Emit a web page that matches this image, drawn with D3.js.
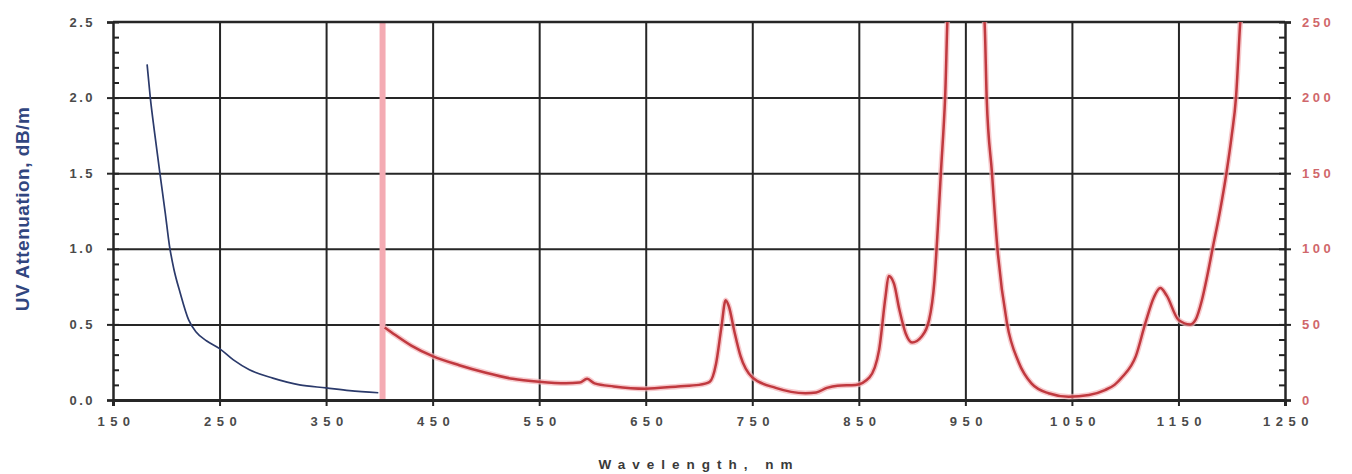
<!DOCTYPE html>
<html>
<head>
<meta charset="utf-8">
<script src="https://cdn.jsdelivr.net/npm/d3@7"></script>
<style>
  body { margin: 0; background: #fff; }
  .tick text { font-family: "Liberation Sans", Arial, sans-serif; font-weight: bold; }
</style>
</head>
<body>
<div id="chart"></div>
<script>
// UV part (left axis, dB/m)
const uvWavelength = [182, 185, 189, 194, 199, 203, 207, 213, 221, 228, 238, 250, 263, 278, 300, 325, 350, 372, 399];
const uvAtten = [2.22, 2.0, 1.77, 1.5, 1.24, 1.02, 0.87, 0.71, 0.53, 0.45, 0.39, 0.34, 0.265, 0.2, 0.145, 0.10, 0.08, 0.062, 0.048];

// VIS/NIR part (right axis)
const visWavelength = [405, 415, 430, 450, 475, 500, 525, 550, 575, 588, 595, 602, 620, 650, 680, 700, 710, 716, 721, 725, 728, 733, 739, 750, 772, 800, 810, 820, 830, 847, 860, 869, 875, 878, 883, 888, 894, 900, 909, 916, 921, 924, 927, 931, 934, 966, 968, 970, 975, 980, 989, 1000, 1012, 1028, 1047, 1066, 1081, 1090, 1097, 1110, 1119, 1127, 1133, 1139, 1150, 1161, 1166, 1172, 1177, 1182, 1189, 1195, 1200, 1204, 1208, 1210];
const visAtten = [48, 43, 36, 29, 23, 18, 14, 12, 11, 11.5, 14, 11, 9, 7.5, 9, 10, 12, 24, 48, 66, 62, 46, 29, 15, 8, 4.5, 5, 8, 9.5, 10, 15, 33, 68, 82, 77, 60, 44, 38, 42, 53, 79, 112, 150, 200, 260, 260, 250, 200, 150, 101, 51, 25, 11, 4.5, 2.2, 3.3, 6.6, 10, 15, 29, 51, 68, 74, 69, 53, 50, 53, 66, 82, 100, 125, 150, 175, 200, 250, 270];

const xTicks = [150, 250, 350, 450, 550, 650, 750, 850, 950, 1050, 1150, 1250];
const leftTicks = [0, 0.5, 1.0, 1.5, 2.0, 2.5];
const rightTicks = [0, 50, 100, 150, 200, 250];
const splitAt = [403];

const W = 1352, H = 474;
const margin = { top: 22, right: 67, bottom: 74, left: 113 };
const width = W - margin.left - margin.right;
const height = H - margin.top - margin.bottom;

const svg = d3.select('#chart').append('svg')
  .attr('width', W).attr('height', H);
const g = svg.append('g').attr('transform', `translate(${margin.left}, ${margin.top})`);

const x = d3.scaleLinear().domain([150, 1250]).range([0, width]);
const yL = d3.scaleLinear().domain([0, 2.5]).range([height, 0]);
const yR = d3.scaleLinear().domain([0, 250]).range([height, 0]);

const gridColor = '#262626';

// grid
g.append('g')
  .call(d3.axisBottom(x).tickValues(xTicks.slice(1, -1)).tickSize(height).tickFormat(''))
  .call(s => s.select('.domain').remove())
  .selectAll('line').attr('stroke', gridColor).attr('stroke-width', 2);
g.append('g')
  .call(d3.axisLeft(yL).tickValues(leftTicks.slice(1, -1)).tickSize(-width).tickFormat(''))
  .call(s => s.select('.domain').remove())
  .selectAll('line').attr('stroke', gridColor).attr('stroke-width', 2);

// pink separator
g.selectAll('.sep').data(splitAt).enter().append('rect')
  .attr('x', d => x(d) - 3).attr('y', 0)
  .attr('width', 6).attr('height', height)
  .attr('fill', '#f4abb3');

// minor ticks (inside)
g.append('g')
  .call(d3.axisRight(yL).tickValues(d3.range(0, 26).map(i => i / 10)).tickSize(6).tickFormat(''))
  .call(s => s.select('.domain').remove())
  .selectAll('line').attr('stroke', '#222').attr('stroke-width', 2);
g.append('g').attr('transform', `translate(${width}, 0)`)
  .call(d3.axisLeft(yR).tickValues(d3.range(0, 26).map(i => i * 10)).tickSize(6).tickFormat(''))
  .call(s => s.select('.domain').remove())
  .selectAll('line').attr('stroke', '#222').attr('stroke-width', 2);

// frame top
g.append('line').attr('x1', 0).attr('x2', width).attr('y1', 0).attr('y2', 0)
  .attr('stroke', gridColor).attr('stroke-width', 2.5);

// axes
const xAxis = g.append('g').attr('transform', `translate(0, ${height})`)
  .call(d3.axisBottom(x).tickValues(xTicks).tickSize(6).tickPadding(11).tickFormat(d3.format('d')));
xAxis.select('.domain').attr('stroke', gridColor).attr('stroke-width', 3);
xAxis.selectAll('line').attr('stroke', gridColor).attr('stroke-width', 2);
xAxis.selectAll('text').attr('fill', '#4a4a4a').attr('font-size', 13)
  .style('letter-spacing', '5.5px').attr('dx', '3px');

const lAxis = g.append('g')
  .call(d3.axisLeft(yL).tickValues(leftTicks).tickSize(6).tickPadding(12).tickFormat(d3.format('.1f')));
lAxis.select('.domain').attr('stroke', gridColor).attr('stroke-width', 2.5);
lAxis.selectAll('line').attr('stroke', gridColor).attr('stroke-width', 2);
lAxis.selectAll('text').attr('fill', '#4a4a4a').attr('font-size', 13)
  .style('letter-spacing', '2.5px');

const rAxis = g.append('g').attr('transform', `translate(${width}, 0)`)
  .call(d3.axisRight(yR).tickValues(rightTicks).tickSize(6).tickPadding(11));
rAxis.select('.domain').attr('stroke', gridColor).attr('stroke-width', 2.5);
rAxis.selectAll('line').attr('stroke', gridColor).attr('stroke-width', 2);
rAxis.selectAll('text').attr('fill', '#d0676b').attr('font-size', 13)
  .style('letter-spacing', '3.5px');

// curves
g.append('clipPath').attr('id', 'plot').append('rect')
  .attr('x', 0).attr('y', 0).attr('width', width).attr('height', height);

const uv = uvWavelength.map((w, i) => ({ w: w, v: uvAtten[i] }));
const vis = visWavelength.map((w, i) => ({ w: w, v: visAtten[i] }));

const lineL = d3.line().x(d => x(d.w)).y(d => yL(d.v)).curve(d3.curveMonotoneX);
const lineR = d3.line().x(d => x(d.w)).y(d => yR(d.v)).curve(d3.curveMonotoneX);

g.append('path').datum(uv).attr('d', lineL)
  .attr('fill', 'none').attr('stroke', '#2b3a6b').attr('stroke-width', 1.7);

const curves = g.append('g').attr('clip-path', 'url(#plot)');
curves.append('path').datum(vis).attr('d', lineR)
  .attr('fill', 'none').attr('stroke', '#f3b3b8').attr('stroke-width', 5.5).attr('opacity', 0.7);
curves.append('path').datum(vis).attr('d', lineR)
  .attr('fill', 'none').attr('stroke', '#c0393f').attr('stroke-width', 2.5);

// titles
svg.append('text')
  .attr('transform', `translate(29, ${margin.top + height / 2 - 2}) rotate(-90)`)
  .attr('text-anchor', 'middle')
  .attr('font-family', '"Liberation Sans", Arial, sans-serif')
  .attr('font-weight', 'bold').attr('font-size', 19)
  .attr('fill', '#31467f')
  .style('letter-spacing', '0.5px')
  .text('UV Attenuation, dB/m');

svg.append('text')
  .attr('x', margin.left + width / 2).attr('y', 469)
  .attr('text-anchor', 'middle')
  .attr('font-family', '"Liberation Sans", Arial, sans-serif')
  .attr('font-weight', 'bold').attr('font-size', 13.5)
  .attr('fill', '#3a3a3a')
  .style('letter-spacing', '7px')
  .text('Wavelength, nm');
</script>
</body>
</html>
